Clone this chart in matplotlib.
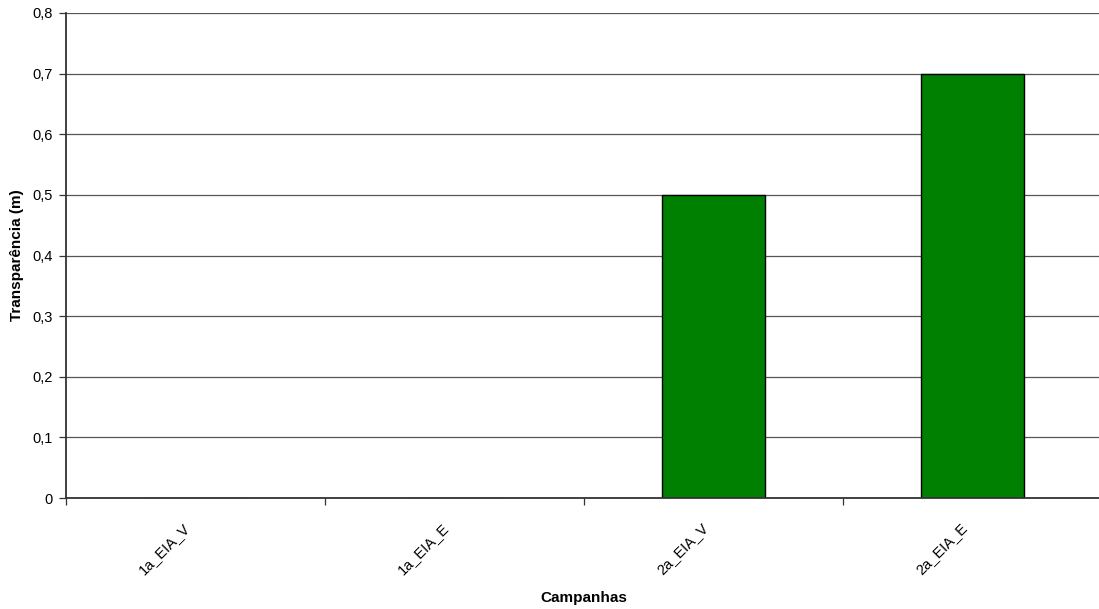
import matplotlib
matplotlib.use("Agg")
import matplotlib.pyplot as plt
from matplotlib.ticker import FixedLocator, FuncFormatter
from matplotlib.transforms import ScaledTranslation

categories = ["1a_EIA_V", "1a_EIA_E", "2a_EIA_V", "2a_EIA_E"]
transparencia = [0.0, 0.0, 0.5, 0.7]
y_ticks = [0.0, 0.1, 0.2, 0.3, 0.4, 0.5, 0.6, 0.7, 0.8]

plt.rcParams["font.family"] = ["Liberation Sans", "DejaVu Sans"]

W, H = 1099, 609
fig = plt.figure(figsize=(W / 100, H / 100), dpi=100)
left, right, top, bottom = 66, 1102, 13, 498
ax = fig.add_axes([left / W, (H - bottom) / H, (right - left) / W, (bottom - top) / H])

x = list(range(len(categories)))
ax.bar(x, transparencia, width=0.4, color="#008000", edgecolor="black",
       linewidth=1.0, zorder=2)

ax.set_xlim(-0.5, len(categories) - 0.5)
ax.set_ylim(0, 0.8)
ax.yaxis.set_major_locator(FixedLocator(y_ticks))
ax.yaxis.set_major_formatter(FuncFormatter(
    lambda v, p: "0" if abs(v) < 1e-9 else f"{v:.1f}".replace(".", ",")))
ax.yaxis.grid(True, color="#555555", linewidth=0.9, zorder=0)
ax.set_axisbelow(True)

ax.xaxis.set_major_locator(FixedLocator([i - 0.5 for i in range(len(categories) + 1)]))
ax.xaxis.set_major_formatter(FuncFormatter(lambda v, p: ""))
ax.xaxis.set_minor_locator(FixedLocator(x))
ax.set_xticklabels(categories, minor=True, rotation=45, ha="right",
                   va="top", rotation_mode="anchor", fontsize=10.5)
ax.tick_params(axis="x", which="minor", length=0, pad=16)
ax.tick_params(axis="x", which="major", length=5, width=0.9, color="#333333")
ax.tick_params(axis="y", length=5, width=0.9, color="#333333", labelsize=10.5, pad=4.5)
shift = ScaledTranslation(-13 / 100, 0, fig.dpi_scale_trans)
for lbl in ax.get_xticklabels(minor=True):
    lbl.set_transform(lbl.get_transform() + shift)

for s in ["top", "right"]:
    ax.spines[s].set_visible(False)
for s in ["left", "bottom"]:
    ax.spines[s].set_color("#333333")
    ax.spines[s].set_linewidth(1.3)
    ax.spines[s].set_zorder(3)

ax.set_ylabel("Transparência (m)", fontsize=11, fontweight="bold")
ax.set_xlabel("Campanhas", fontsize=11, fontweight="bold")
ax.xaxis.set_label_coords((584 - left) / (right - left), -(591 - bottom) / (bottom - top))
ax.yaxis.set_label_coords(-(66 - 24) / (right - left), (bottom - 255) / (bottom - top))

fig.savefig("out.png", dpi=100, facecolor="white")
